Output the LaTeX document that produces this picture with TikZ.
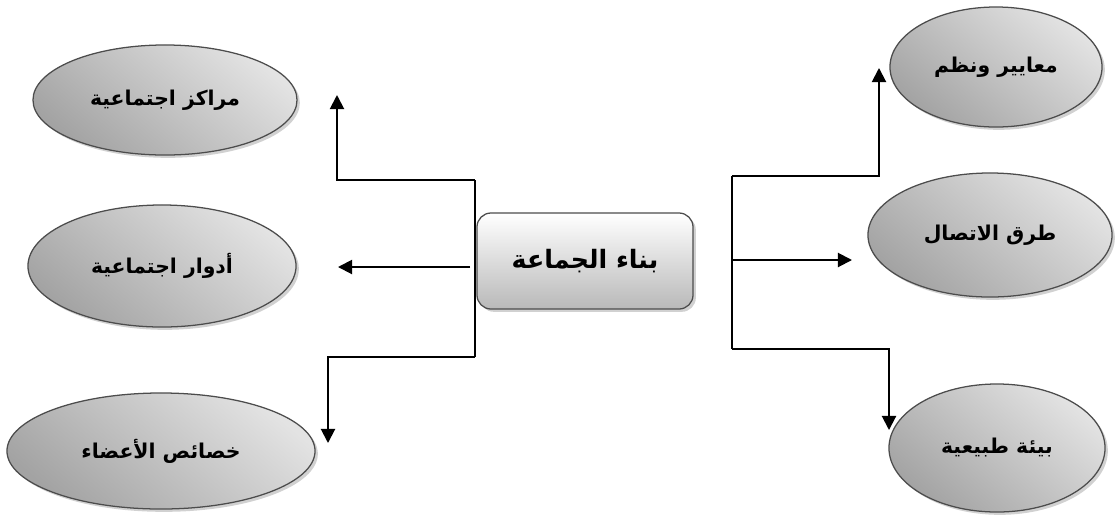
\documentclass[tikz,border=0pt]{standalone}
\usepackage{fontspec}
\newfontfamily\arabicfont[Script=Arabic]{DejaVu Sans}
\TeXXeTstate=1
\usetikzlibrary{shapes.geometric, arrows.meta, shadows}

\tikzset{
  bubble/.style={ellipse, draw=gray!60!black, line width=0.9pt, inner sep=0pt,
    top color=gray!22, bottom color=gray!72, shading angle=-40,
    drop shadow={shadow xshift=2pt, shadow yshift=-2pt, fill=gray!45, opacity=.8},
    font=\arabicfont\bfseries\fontsize{14.5}{17}\selectfont},
  rootbox/.style={rectangle, rounded corners=10pt, draw=gray!60!black, line width=0.9pt,
    top color=white, bottom color=gray!55, inner sep=0pt,
    minimum width=5.4cm, minimum height=2.4cm,
    drop shadow={shadow xshift=2pt, shadow yshift=-2pt, fill=gray!45, opacity=.8},
    font=\arabicfont\bfseries\fontsize{18}{21}\selectfont},
  link/.style={line width=1.4pt},
  arr/.style={link, -{Triangle[length=10pt, width=10pt]}}
}

\begin{document}
\begin{tikzpicture}[x=0.025cm, y=-0.025cm]
  \useasboundingbox (0,0) rectangle (1118,522);

  % middle box
  \node[rootbox] (root) at (585,261) {\beginR بناء الجماعة\endR};

  % left side
  \node[bubble, minimum width=6.6cm, minimum height=2.75cm] (centres) at (165,100) {\beginR مراكز اجتماعية\endR};
  \node[bubble, minimum width=6.7cm, minimum height=3.05cm] (roles) at (162,266) {\beginR أدوار اجتماعية\endR};
  \node[bubble, minimum width=7.7cm, minimum height=2.9cm] (traits) at (161,451) {\beginR خصائص الأعضاء\endR};

  % right side
  \node[bubble, minimum width=5.3cm, minimum height=3.0cm] (norms) at (996,67) {\beginR معايير ونظم\endR};
  \node[bubble, minimum width=6.1cm, minimum height=3.1cm] (comm) at (990,235) {\beginR طرق الاتصال\endR};
  \node[bubble, minimum width=5.4cm, minimum height=3.2cm] (env) at (997,448) {\beginR بيئة طبيعية\endR};

  % left connectors
  \coordinate (ltop) at (475,180);
  \coordinate (lbot) at (475,357);
  \coordinate (lmid) at (470,267);
  \coordinate (toCentres) at (337,95);
  \coordinate (toRoles) at (338,267);
  \coordinate (toTraits) at (328,443);
  \draw[link] (ltop) -- (lbot);
  \draw[arr] (ltop) -| (toCentres);
  \draw[arr] (lmid) -- (toRoles);
  \draw[arr] (lbot) -| (toTraits);

  % right connectors
  \coordinate (rtop) at (732,176);
  \coordinate (rbot) at (732,349);
  \coordinate (rmid) at (732,260);
  \coordinate (toNorms) at (879,68);
  \coordinate (toComm) at (852,260);
  \coordinate (toEnv) at (889,430);
  \draw[link] (rtop) -- (rbot);
  \draw[arr] (rtop) -| (toNorms);
  \draw[arr] (rmid) -- (toComm);
  \draw[arr] (rbot) -| (toEnv);
\end{tikzpicture}
\end{document}
